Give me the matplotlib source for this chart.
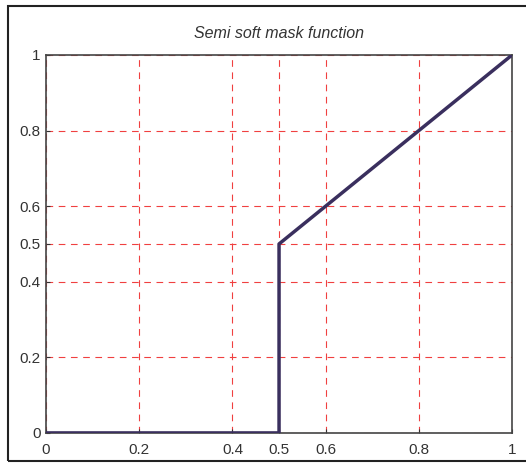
import matplotlib
matplotlib.use("Agg")
import matplotlib.pyplot as plt
from matplotlib.patches import Rectangle

# semi soft mask: zero below 0.5, then jumps to 0.5 and rises linearly to 1
x_vals = [0, 0.5, 0.5, 1]
y_vals = [0, 0, 0.5, 1]
ticks = [0, 0.2, 0.4, 0.5, 0.6, 0.8, 1]
tick_labels = ["0", "0.2", "0.4", "0.5", "0.6", "0.8", "1"]

plt.rcParams.update({
    'font.family': 'Liberation Sans',
})

fig = plt.figure(figsize=(5.26, 4.66), dpi=100)
ax = fig.add_axes([0.0875, 0.071, 0.886, 0.811])

ax.plot(x_vals, y_vals, color="#3a2f5e", linewidth=2.5, zorder=3)

ax.set_xlim(0, 1)
ax.set_ylim(0, 1)
ax.set_xticks(ticks)
ax.set_xticklabels(tick_labels)
ax.set_yticks(ticks)
ax.set_yticklabels(tick_labels)
ax.grid(True, color="#f04040", linestyle=(0, (6, 5)), linewidth=0.8)
ax.tick_params(direction="in", length=3, labelsize=11, colors="#333333", pad=4)
ax.tick_params(axis="x", pad=7)
for s in ax.spines.values():
    s.set_color("#444444")
    s.set_linewidth(1.2)

ax.set_title("Semi soft mask function", fontsize=11.5, style="italic", color="#333333", pad=12)

# outer frame around the figure
fig.patches.append(Rectangle((8/526, 5/466), 1.5, 1 - 11/466, transform=fig.transFigure,
                             fill=False, edgecolor="#222222", linewidth=1.5))

fig.savefig("out.png", dpi=100)
